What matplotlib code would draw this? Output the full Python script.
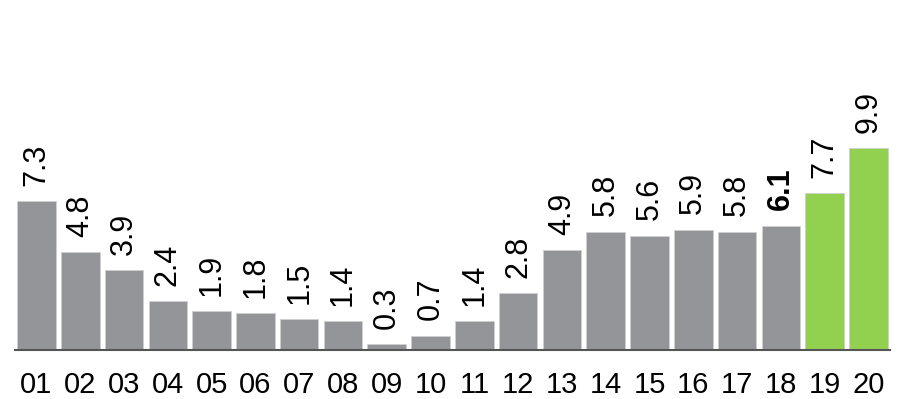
import matplotlib
matplotlib.use("Agg")
import matplotlib.pyplot as plt

categories = ["01","02","03","04","05","06","07","08","09","10",
              "11","12","13","14","15","16","17","18","19","20"]
values = [7.3, 4.8, 3.9, 2.4, 1.9, 1.8, 1.5, 1.4, 0.3, 0.7,
          1.4, 2.8, 4.9, 5.8, 5.6, 5.9, 5.8, 6.1, 7.7, 9.9]
highlight = ["19", "20"]
bold_labels = ["18"]

GRAY = "#939598"
GREEN = "#92d050"

plt.rcParams['font.family'] = ['Liberation Sans', 'DejaVu Sans']

fig = plt.figure(figsize=(9.0, 3.99), dpi=100)
ax = fig.add_axes([0.0162, 0.1228, 0.973, 0.8772])

x = list(range(len(categories)))
colors = [GREEN if c in highlight else GRAY for c in categories]
bars = ax.bar(x, values, width=0.88, color=colors, edgecolor="#d0d0d0", linewidth=0.6)

for xi, v, c in zip(x, values, categories):
    ax.annotate(f"{v:.1f}", (xi, v), xytext=(0, 11), textcoords="offset points",
                rotation=90, ha="center", va="bottom", fontsize=22,
                fontweight="bold" if c in bold_labels else "normal", color="black")

ax.set_xlim(-0.5, 19.5)
ax.set_ylim(0, 17.15)
ax.set_xticks(x)
ax.set_xticklabels(categories, fontsize=21)
ax.tick_params(axis="x", length=0, pad=15)
ax.set_yticks([])
for s in ["top", "right", "left"]:
    ax.spines[s].set_visible(False)
ax.spines["bottom"].set_color("#555555")
ax.spines["bottom"].set_linewidth(1.5)

fig.savefig("out.png", dpi=100)
